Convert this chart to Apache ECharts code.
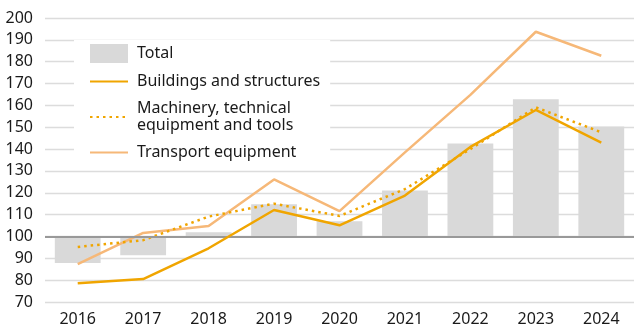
<!DOCTYPE html>
<html>
<head>
<meta charset="utf-8">
<script src="https://cdn.jsdelivr.net/npm/echarts@6/dist/echarts.min.js"></script>
<style>
  html, body { margin: 0; padding: 0; background: #fff; }
  #chart { width: 634px; height: 327px; }
</style>
</head>
<body>
<div id="chart"></div>
<script>
// Investment index by asset type, base = 100
const years = ['2016', '2017', '2018', '2019', '2020', '2021', '2022', '2023', '2024'];
const total = [87.8, 91.4, 101.9, 114.7, 107, 121, 142.5, 162.8, 150.3];
const buildings = [78.6, 80.5, 94.6, 112.1, 105.1, 118.7, 141, 157.9, 142.9];
const machinery = [95.2, 98.3, 109.1, 115, 109.4, 121.7, 140, 159.1, 147.7];
const transport = [87.3, 101.6, 104.8, 126.1, 111.6, 138.5, 164.8, 193.7, 182.7];
const baseValue = 100;

const FONT = 'Noto Sans';
const LEGEND_NAMES = ['Total', 'Buildings and structures', 'Machinery, technical\nequipment and tools', 'Transport equipment'];

// Bars hang from the 100 baseline: an invisible stack segment carries each bar to its start
const barStart = total.map(v => Math.min(v, baseValue));
const barSpan = total.map(v => Math.abs(v - baseValue));

// Line entries in the legend show only the stroke, without a marker
const lineOnly = { itemStyle: { opacity: 0 } };

const chart = echarts.init(document.getElementById('chart'), null, { renderer: 'canvas' });
chart.setOption({
  animation: false,
  backgroundColor: '#fff',
  grid: { left: 45, right: 0, top: 18, bottom: 24, containLabel: false },
  legend: {
    left: 74, top: 40,
    orient: 'vertical',
    backgroundColor: '#fff',
    padding: [4, 10, 4, 15],
    itemWidth: 38, itemHeight: 19, itemGap: 10,
    textStyle: { fontFamily: FONT, fontSize: 16, color: '#1a1a1a', lineHeight: 17, padding: [0, 0, 0, 4] },
    data: [
      { name: LEGEND_NAMES[0], icon: 'rect' },
      Object.assign({ name: LEGEND_NAMES[1] }, lineOnly),
      Object.assign({ name: LEGEND_NAMES[2] }, lineOnly),
      Object.assign({ name: LEGEND_NAMES[3] }, lineOnly)
    ]
  },
  xAxis: {
    type: 'category',
    data: years,
    axisLine: { show: false },
    axisTick: { show: false },
    axisLabel: { fontFamily: FONT, fontSize: 16, color: '#1a1a1a', margin: 9 }
  },
  yAxis: {
    type: 'value',
    min: 70, max: 200, interval: 10,
    axisLine: { show: false },
    axisTick: { show: false },
    axisLabel: { fontFamily: FONT, fontSize: 16, color: '#1a1a1a', margin: 12 },
    splitLine: { lineStyle: { color: '#dcdcdc', width: 1.3 } }
  },
  series: [
    {
      name: 'base', type: 'bar', stack: 'total', data: barStart,
      itemStyle: { color: 'rgba(0,0,0,0)' }, barWidth: '70%', silent: true
    },
    {
      name: LEGEND_NAMES[0], type: 'bar', stack: 'total', data: barSpan,
      itemStyle: { color: '#d9d9d9' }, barWidth: '70%',
      markLine: {
        silent: true, symbol: 'none', label: { show: false },
        lineStyle: { color: '#999999', width: 1.8, type: 'solid' },
        data: [{ yAxis: baseValue }]
      }
    },
    {
      name: LEGEND_NAMES[3], type: 'line', data: transport,
      symbol: 'none', showSymbol: false, z: 3,
      lineStyle: { color: '#f6b878', width: 2.5 }, itemStyle: { color: '#f6b878' }
    },
    {
      name: LEGEND_NAMES[2], type: 'line', data: machinery,
      symbol: 'none', showSymbol: false, z: 4,
      lineStyle: { color: '#f0a500', width: 2.5, type: [2.5, 4] }, itemStyle: { color: '#f0a500' }
    },
    {
      name: LEGEND_NAMES[1], type: 'line', data: buildings,
      symbol: 'none', showSymbol: false, z: 5,
      lineStyle: { color: '#f0a500', width: 2.5 }, itemStyle: { color: '#f0a500' }
    }
  ]
});
</script>
</body>
</html>
